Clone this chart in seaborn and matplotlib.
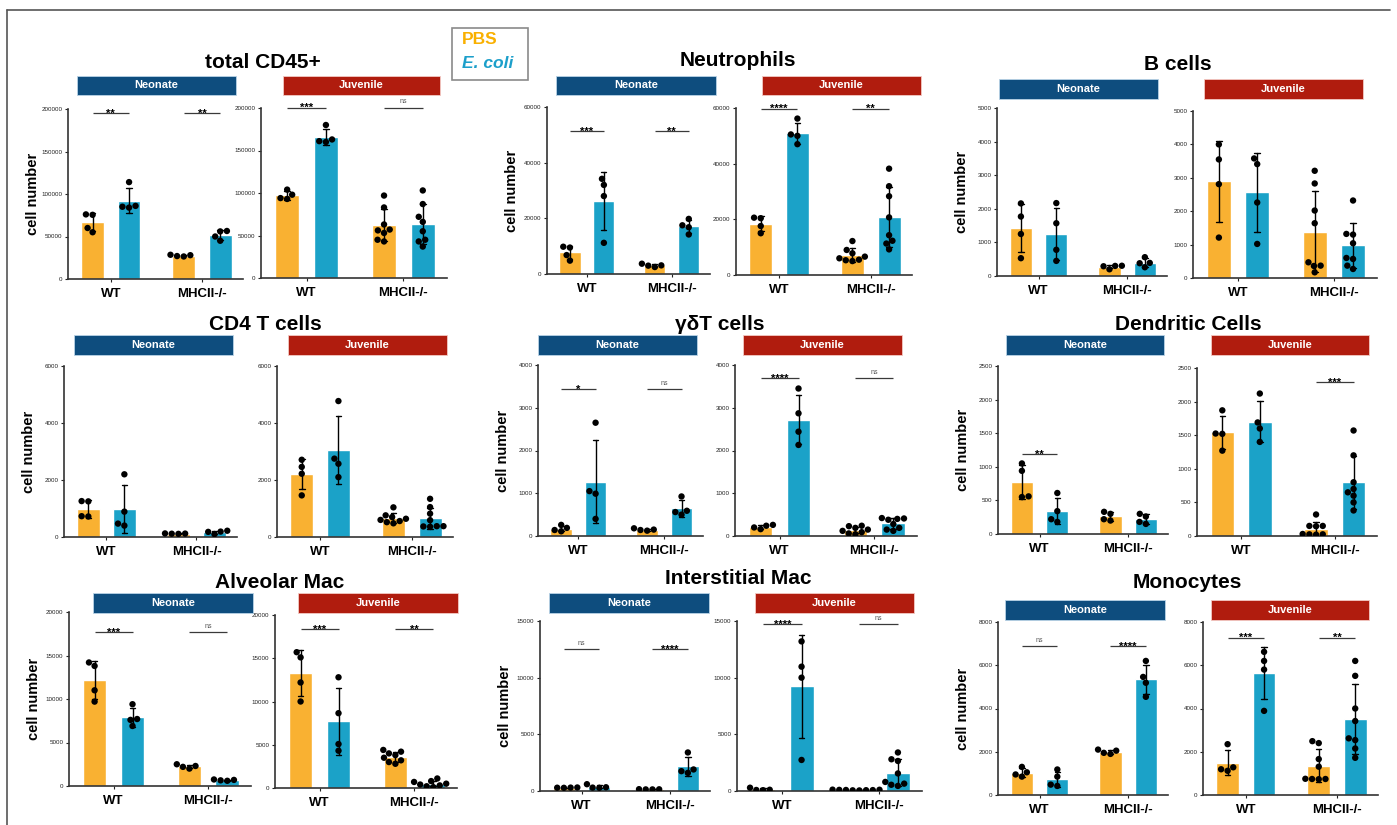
import warnings
import numpy as np
import pandas as pd
import matplotlib
matplotlib.use("Agg")
import matplotlib.pyplot as plt
from matplotlib.patches import Rectangle
from matplotlib.lines import Line2D
import seaborn as sns

warnings.filterwarnings("ignore")

# ---------------------------------------------------------------------------
# Data: cell counts per mouse.
# Each list holds four groups in this order:
#   WT PBS, WT E. coli, MHCII-/- PBS, MHCII-/- E. coli
# ---------------------------------------------------------------------------
genotypes = ["WT", "MHCII-/-"]
treatments = ["PBS", "E. coli"]
ages = ["Neonate", "Juvenile"]

cd45_neonate = [[76000, 75500, 60000, 55000], [114000, 84000, 86000, 85000],
                [26500, 28000, 28500, 27000], [56000, 56500, 50000, 45000]]
cd45_juvenile = [[104000, 98000, 93000, 94000], [180000, 163000, 161000, 160000],
                 [97000, 83000, 63000, 57000, 56000, 53000, 45000, 43000],
                 [103000, 87000, 72000, 66000, 55000, 45000, 43000, 37000]]
cd45_ticks = [0, 50000, 100000, 150000, 200000]
cd45_sig = [["**", "**"], ["***", "ns"]]
cd45_sig_at = [195000, 200500]

neut_neonate = [[9500, 9800, 6800, 4800], [34200, 32000, 28000, 11200],
                [2500, 3700, 3100, 3000], [19800, 17500, 16800, 14200]]
neut_juvenile = [[20600, 20400, 17600, 15000], [56200, 50500, 50000, 47000],
                 [12200, 9000, 7800, 6600, 6000, 5500, 5300, 5000],
                 [38200, 31900, 28300, 20700, 14300, 12300, 11300, 9200]]
neut_ticks = [0, 20000, 40000, 60000]
neut_sig = [["***", "**"], ["****", "**"]]
neut_sig_at = [51400, 59800]

bcell_neonate = [[2160, 1770, 1250, 530], [2170, 1570, 780, 450],
                 [200, 290, 300, 305], [560, 390, 380, 260]]
bcell_juvenile = [[4000, 3550, 2810, 1210], [3580, 3410, 2260, 1020],
                  [3210, 2830, 2020, 1640, 470, 370, 360, 170],
                  [2320, 1320, 1300, 1040, 600, 570, 370, 270]]
bcell_ticks = [0, 1000, 2000, 3000, 4000, 5000]
bcell_sig = [[None, None], [None, None]]
bcell_sig_at = [0, 0]

cd4_neonate = [[1250, 1260, 730, 720], [2200, 890, 470, 400],
               [110, 120, 115, 125], [100, 180, 190, 220]]
cd4_juvenile = [[2710, 2460, 2220, 1460], [4770, 2750, 2570, 2100],
                [1040, 760, 700, 640, 600, 560, 520, 480],
                [1340, 1050, 820, 590, 380, 370, 380, 360]]
cd4_ticks = [0, 2000, 4000, 6000]
cd4_sig = [[None, None], [None, None]]
cd4_sig_at = [0, 0]

gdt_neonate = [[260, 190, 140, 110], [2650, 1050, 990, 400],
               [180, 150, 140, 125], [925, 590, 560, 500]]
gdt_juvenile = [[260, 240, 200, 160], [3450, 2870, 2440, 2130],
                [240, 230, 190, 150, 120, 90, 60, 40],
                [420, 410, 400, 380, 280, 190, 150, 120]]
gdt_ticks = [0, 1000, 2000, 3000, 4000]
gdt_sig = [["*", "ns"], ["****", "ns"]]
gdt_sig_at = [3430, 3690]

dc_neonate = [[1050, 940, 560, 550], [610, 340, 220, 180],
              [330, 300, 220, 200], [300, 260, 180, 150]]
dc_juvenile = [[1870, 1525, 1520, 1270], [2120, 1690, 1600, 1400],
               [320, 150, 150, 145, 30, 25, 25, 20],
               [1570, 1200, 800, 700, 650, 600, 500, 380]]
dc_ticks = [0, 500, 1000, 1500, 2000, 2500]
dc_sig = [["**", None], [None, "***"]]
dc_sig_at = [1190, 2290]

am_neonate = [[14200, 13800, 11000, 9700], [9400, 7700, 7600, 6900],
              [2500, 2300, 2200, 2000], [700, 750, 650, 600]]
am_juvenile = [[15700, 15100, 12200, 10000], [12800, 8650, 5080, 4310],
               [4400, 4200, 4000, 3800, 3500, 3200, 3000, 2800],
               [1100, 800, 700, 500, 400, 300, 200, 100]]
am_ticks = [0, 5000, 10000, 15000, 20000]
am_sig = [["***", "ns"], ["***", "**"]]
am_sig_at = [17660, 18390]

im_neonate = [[310, 290, 300, 280], [600, 330, 300, 280],
              [150, 140, 160, 140], [3400, 1900, 1750, 1600]]
im_juvenile = [[290, 110, 90, 70], [13200, 10970, 10000, 2740],
               [120, 110, 100, 90, 80, 70, 60, 50],
               [3400, 2800, 2650, 1550, 800, 650, 550, 450]]
im_ticks = [0, 5000, 10000, 15000]
im_sig = [["ns", "****"], ["****", "ns"]]
im_sig_at = [12530, 14710]

mono_neonate = [[1300, 1050, 950, 850], [1180, 850, 480, 420],
                [2100, 2050, 1950, 1900], [6200, 5460, 5190, 4540]]
mono_juvenile = [[2350, 1280, 1190, 1120], [6620, 6200, 5800, 3890],
                 [2490, 2400, 1660, 1310, 740, 740, 730, 750],
                 [6200, 5510, 4000, 3420, 2620, 2540, 2150, 1720]]
mono_ticks = [0, 2000, 4000, 6000, 8000]
mono_sig = [["ns", "****"], ["***", "**"]]
mono_sig_at = [6890, 7280]

panels = [
    ("total CD45+", cd45_neonate, cd45_juvenile, cd45_ticks, cd45_sig, cd45_sig_at),
    ("Neutrophils", neut_neonate, neut_juvenile, neut_ticks, neut_sig, neut_sig_at),
    ("B cells", bcell_neonate, bcell_juvenile, bcell_ticks, bcell_sig, bcell_sig_at),
    ("CD4 T cells", cd4_neonate, cd4_juvenile, cd4_ticks, cd4_sig, cd4_sig_at),
    ("γδT cells", gdt_neonate, gdt_juvenile, gdt_ticks, gdt_sig, gdt_sig_at),
    ("Dendritic Cells", dc_neonate, dc_juvenile, dc_ticks, dc_sig, dc_sig_at),
    ("Alveolar Mac", am_neonate, am_juvenile, am_ticks, am_sig, am_sig_at),
    ("Interstitial Mac", im_neonate, im_juvenile, im_ticks, im_sig, im_sig_at),
    ("Monocytes", mono_neonate, mono_juvenile, mono_ticks, mono_sig, mono_sig_at),
]

# ---------------------------------------------------------------------------
# Layout (pixels): axes as (left, right, top, bottom), header strips alike,
# panel titles as (centre x, centre y)
# ---------------------------------------------------------------------------
W, H = 1397, 825
axes_px = [
    [(68, 243, 109, 279), (261, 447, 108, 278)],
    [(547, 710, 107, 274), (736, 912, 108, 275)],
    [(997, 1167, 108, 276), (1193, 1377, 111, 278)],
    [(64, 237, 366, 537), (277, 453, 366, 537)],
    [(538, 703, 365, 536), (735, 917, 365, 536)],
    [(998, 1168, 366, 534), (1197, 1377, 368, 536)],
    [(69, 251, 612, 786), (275, 457, 615, 788)],
    [(540, 710, 621, 791), (737, 922, 621, 791)],
    [(998, 1168, 622, 795), (1203, 1378, 622, 795)],
]
header_px = [
    [(77, 236, 76, 95), (283, 440, 76, 95)],
    [(556, 716, 76, 95), (762, 921, 76, 95)],
    [(999, 1158, 79, 99), (1204, 1363, 79, 99)],
    [(74, 233, 335, 355), (288, 447, 335, 355)],
    [(538, 697, 335, 355), (743, 902, 335, 355)],
    [(1006, 1164, 335, 355), (1211, 1369, 335, 355)],
    [(93, 253, 593, 613), (298, 458, 593, 613)],
    [(549, 709, 593, 613), (755, 914, 593, 613)],
    [(1005, 1165, 600, 620), (1211, 1369, 600, 620)],
]
title_px = [(263, 62), (738, 60), (1178, 65), (265, 325), (720, 325),
            (1188, 325), (280, 583), (738, 578), (1187, 583)]

bar_colors = {"PBS": "#F9B132", "E. coli": "#1BA2C8"}
dot_colors = {"PBS": "black", "E. coli": "black"}
header_colors = {"Neonate": "#0E4D7E", "Juvenile": "#B01C0E"}

sns.set_theme(style="ticks")
plt.rcParams["font.family"] = ["Liberation Sans", "DejaVu Sans"]

fig = plt.figure(figsize=(W / 100, H / 100), dpi=100)
fig.patch.set_facecolor("white")


def fig_rect(l, r, t, b):
    return [l / W, 1 - b / H, (r - l) / W, (b - t) / H]


def long_frame(groups):
    keys = [(g, t) for g in genotypes for t in treatments]
    rows = []
    for (g, t), vals in zip(keys, groups):
        for v in vals:
            rows.append((g, t, v))
    return pd.DataFrame(rows, columns=["genotype", "treatment", "count"])


for p, (title, neo, juv, ticks, sig, sig_at) in enumerate(panels):
    tx, ty = title_px[p]
    fig.text(tx / W, 1 - ty / H, title, ha="center", va="center",
             fontsize=15, fontweight="bold", color="black")
    for a, (age, groups) in enumerate(zip(ages, [neo, juv])):
        l, r, t, b = axes_px[p][a]
        ax = fig.add_axes(fig_rect(l, r, t, b))
        ax.set_facecolor("white")
        ax.set_xlim(-0.47, 1.45)
        ax.set_ylim(0, ticks[-1])
        df = long_frame(groups)

        sns.barplot(data=df, x="genotype", y="count", hue="treatment",
                    order=genotypes, hue_order=treatments, palette=bar_colors,
                    saturation=1, width=0.8, gap=0.375, errorbar="sd",
                    capsize=0.12, err_kws={"color": "black", "linewidth": 1.0},
                    legend=False, ax=ax)
        sns.swarmplot(data=df, x="genotype", y="count", hue="treatment",
                      order=genotypes, hue_order=treatments, dodge=True,
                      palette=dot_colors, size=4.6, legend=False, ax=ax)
        ax.set_xlim(-0.47, 1.45)
        ax.set_ylim(0, ticks[-1])

        # significance brackets
        for gi, lab in enumerate(sig[a]):
            if lab is None:
                continue
            h = sig_at[a]
            ax.plot([gi - 0.2, gi + 0.2], [h, h], color="#3a3a3a", lw=0.9,
                    clip_on=False, solid_capstyle="butt")
            if lab == "ns":
                ax.annotate(lab, (gi, h), xytext=(0, 1.5),
                            textcoords="offset points", ha="center",
                            va="bottom", fontsize=5, color="#555555")
            else:
                ax.annotate(lab, (gi, h), xytext=(0, -2.5),
                            textcoords="offset points", ha="center",
                            va="baseline", fontsize=8, fontweight="bold",
                            color="black")

        ax.set_yticks(ticks)
        ax.set_yticklabels([str(v) for v in ticks])
        ax.tick_params(axis="y", labelsize=4.5, length=2.5, width=0.8,
                       pad=1.5, colors="#222222")
        ax.tick_params(axis="x", labelsize=9.5, length=2.5, width=0.8,
                       pad=4, colors="#222222")
        for lab in ax.get_xticklabels():
            lab.set_fontweight("bold")
            lab.set_color("black")
        ax.set_xlabel("")
        for s in ["top", "right"]:
            ax.spines[s].set_visible(False)
        for s in ["left", "bottom"]:
            ax.spines[s].set_color("#333333")
            ax.spines[s].set_linewidth(1.2)
        if a == 0:
            ax.set_ylabel("cell number", fontsize=10.5, fontweight="bold",
                          color="black")
            ax.yaxis.set_label_coords(-28 / (r - l), 0.5)
        else:
            ax.set_ylabel("")

        # header strip
        hl, hr, ht, hb = header_px[p][a]
        fig.add_artist(Rectangle((hl / W, 1 - hb / H), (hr - hl) / W,
                                 (hb - ht) / H, transform=fig.transFigure,
                                 facecolor=header_colors[age],
                                 edgecolor="#f3c9c4" if age == "Juvenile" else "#b9d3e6",
                                 linewidth=0.6))
        fig.text((hl + hr) / 2 / W, 1 - (ht + hb) / 2 / H, age,
                 ha="center", va="center", fontsize=8, fontweight="bold",
                 color="white")

# treatment key
fig.add_artist(Rectangle((452 / W, 1 - 80 / H), 76 / W, 52 / H,
                         transform=fig.transFigure, facecolor="white",
                         edgecolor="#8a8a8a", linewidth=1.2))
fig.text(462 / W, 1 - 40 / H, "PBS", ha="left", va="center", fontsize=12.5,
         fontweight="bold", color="#F9B000")
fig.text(462 / W, 1 - 63 / H, "E. coli", ha="left", va="center",
         fontsize=12.5, fontweight="bold", fontstyle="italic", color="#1C9FCA")

# outer frame
fig.add_artist(Line2D([7 / W, 1390 / W], [1 - 10 / H, 1 - 10 / H],
                      transform=fig.transFigure, color="#555555", lw=1.2))
fig.add_artist(Line2D([7 / W, 7 / W], [1 - 10 / H, 0], transform=fig.transFigure,
                      color="#555555", lw=1.2))

fig.savefig("out.png", dpi=100, facecolor="white")
